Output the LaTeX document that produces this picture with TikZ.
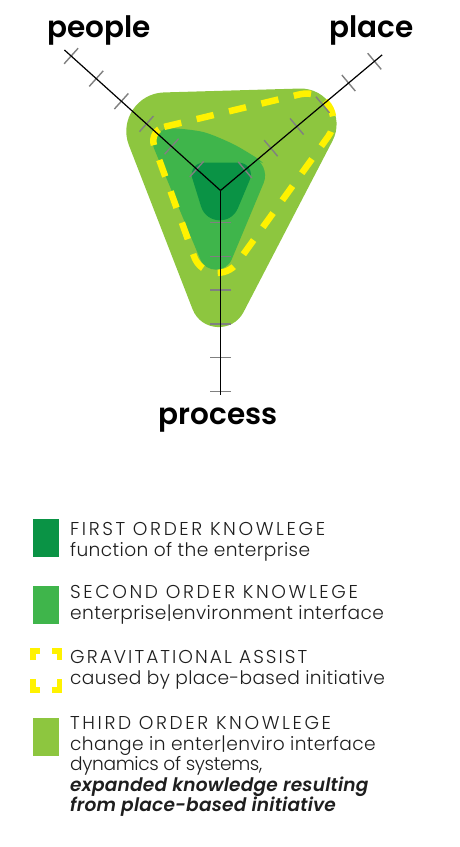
\documentclass[tikz,border=0pt]{standalone}
\usepackage{fontspec}
\setmainfont{Poppins}[UprightFont=* Light, BoldFont=* SemiBold, ItalicFont=* Light Italic, BoldItalicFont=* SemiBold Italic]
\usetikzlibrary{calc}
\definecolor{lightg}{HTML}{8DC63F}
\definecolor{medg}{HTML}{3FB54B}
\definecolor{darkg}{HTML}{0A9345}
\definecolor{yel}{HTML}{FFF200}
\definecolor{tickgray}{HTML}{808080}
\definecolor{txt}{HTML}{1E1E1E}
\newcommand\capsline[2][14]{{\addfontfeature{LetterSpace=#1}#2}}
\newcommand\tightline[1]{{\addfontfeature{LetterSpace=-2}#1}}
\newcommand\emline[1]{{\addfontfeature{LetterSpace=1}\textbf{\textit{#1}}}}
% corner data: name, rounding distance, control length
\newcommand\cornerdata[3]{\expandafter\def\csname cornerd#1\endcsname{#2}\expandafter\def\csname cornerk#1\endcsname{#3}}
\cornerdata{oA}{55pt}{26.7pt}\cornerdata{oB}{61pt}{27.4pt}\cornerdata{oC}{62pt}{24.1pt}
\cornerdata{mA}{28pt}{11pt}\cornerdata{mB}{22pt}{11.8pt}\cornerdata{mC}{41pt}{15.2pt}
\cornerdata{dA}{16pt}{8pt}\cornerdata{dB}{18pt}{8.5pt}\cornerdata{dC}{54pt}{18.4pt}
\cornerdata{yA}{16pt}{8.5pt}\cornerdata{yB}{73pt}{25.2pt}\cornerdata{yC}{47pt}{19.9pt}
% rounded triangle: #1 options, #2 #3 #4 corner names
\newcommand\myroundtri[4]{%
  \edef\rtda{\csname cornerd#2\endcsname}\edef\rtka{\csname cornerk#2\endcsname}%
  \edef\rtdb{\csname cornerd#3\endcsname}\edef\rtkb{\csname cornerk#3\endcsname}%
  \edef\rtdc{\csname cornerd#4\endcsname}\edef\rtkc{\csname cornerk#4\endcsname}%
  \path[#1] ($(#2)!\rtda!(#3)$) -- ($(#3)!\rtdb!(#2)$)
    .. controls ($(#3)!\rtdb-\rtkb!(#2)$) and ($(#3)!\rtdb-\rtkb!(#4)$) .. ($(#3)!\rtdb!(#4)$)
    -- ($(#4)!\rtdc!(#3)$)
    .. controls ($(#4)!\rtdc-\rtkc!(#3)$) and ($(#4)!\rtdc-\rtkc!(#2)$) .. ($(#4)!\rtdc!(#2)$)
    -- ($(#2)!\rtda!(#4)$)
    .. controls ($(#2)!\rtda-\rtka!(#4)$) and ($(#2)!\rtda-\rtka!(#3)$) .. ($(#2)!\rtda!(#3)$)
    -- cycle;}
\begin{document}
\begin{tikzpicture}[x=1pt,y=-1pt,
  tk/.style={draw=tickgray, line width=1.4pt},
  ax/.style={draw=black, line width=1.2pt},
  lbl/.style={font=\fontsize{29.5}{30}\selectfont\bfseries, text=black, anchor=base, inner sep=0pt},
  leg/.style={font=\fontsize{18.6}{20.5}\selectfont\addfontfeature{LetterSpace=2}, text=txt, anchor=base west, align=left, inner sep=0pt},
  swatch/.style={draw=none, minimum width=26pt, minimum height=38pt, inner sep=0pt, anchor=north west},
  bracket/.style={draw=yel, line width=5.5pt, miter limit=10}]
\useasboundingbox (0,0) rectangle (459,847);
% shape corners
\coordinate (oA) at (109,94);   \coordinate (oB) at (360.6,86.8); \coordinate (oC) at (215,367);
\coordinate (mA) at (143,122);  \coordinate (mB) at (272,163);    \coordinate (mC) at (216,297);
\coordinate (dA) at (187.5,162.7); \coordinate (dB) at (257,162.7); \coordinate (dC) at (217,258);
\coordinate (yA) at (148.7,130.6); \coordinate (yB) at (370.8,77.3);  \coordinate (yC) at (210,300.7);
\myroundtri{fill=lightg}{oA}{oB}{oC}
\myroundtri{fill=medg}{mA}{mB}{mC}
% convex top of the second-order region
\fill[medg] plot[smooth] coordinates {(163,129.5) (175,128.4) (204,132.2) (233,144) (256,157.5) (263,163)} -- cycle;
\myroundtri{fill=darkg}{dA}{dB}{dC}
\myroundtri{draw=yel, line width=6.5pt, dash pattern=on 17.5pt off 15.8pt}{yA}{yB}{yC}
% axes
\coordinate (c) at (220.5,190.5);
\coordinate (pe) at ($(c)+(-138:210)$);
\coordinate (pl) at ($(c)+(-40:211)$);
\coordinate (pr) at ($(c)+(90:204)$);
\foreach \d in {32,65.8,99.6,133.4,167.2,201}{
  \draw[tk] ($(c)+(-138:\d)+(-48:10.5)$) -- ($(c)+(-138:\d)+(132:10.5)$);
  \draw[tk] ($(c)+(-40:\d)+(50:10.5)$) -- ($(c)+(-40:\d)+(-130:10.5)$);
  \draw[tk] ($(c)+(90:\d)+(0:10.5)$) -- ($(c)+(90:\d)+(180:10.5)$);
}
\draw[ax] (c) -- (pe);
\draw[ax] (c) -- (pl);
\draw[ax] (c) -- (pr);
% axis labels
\node[lbl] (people) at (99,37) {people};
\node[lbl] (place) at (371.5,37) {place};
\node[lbl] (process) at (218,424) {process};
% legend
\node[swatch, fill=darkg] (s1) at (33,519) {};
\node[swatch, fill=medg] (s2) at (33,586) {};
\node[swatch, fill=lightg] (s4) at (33,718) {};
\draw[bracket] (32.75,660) -- (32.75,650.75) -- (40,650.75);
\draw[bracket] (52.3,650.75) -- (59.25,650.75) -- (59.25,660);
\draw[bracket] (32.75,679.3) -- (32.75,690) -- (40,690);
\draw[bracket] (52.3,690) -- (59.25,690) -- (59.25,679.3);
\node[leg] (t1) at (70,556) {\capsline{FIRST ORDER KNOWLEGE}\\function of the enterprise};
\node[leg] (t2) at (70,619) {\capsline{SECOND ORDER KNOWLEGE}\\enterprise|environment interface};
\node[leg] (t3) at (70,684) {\capsline[11]{GRAVITATIONAL ASSIST}\\caused by place-based initiative};
\node[leg] (t4) at (70,811.5) {\capsline{THIRD ORDER KNOWLEGE}\\change in enter|enviro interface\\\tightline{dynamics of systems,}\\\emline{expanded knowledge resulting}\\\emline{from place-based initiative}};
\end{tikzpicture}
\end{document}
